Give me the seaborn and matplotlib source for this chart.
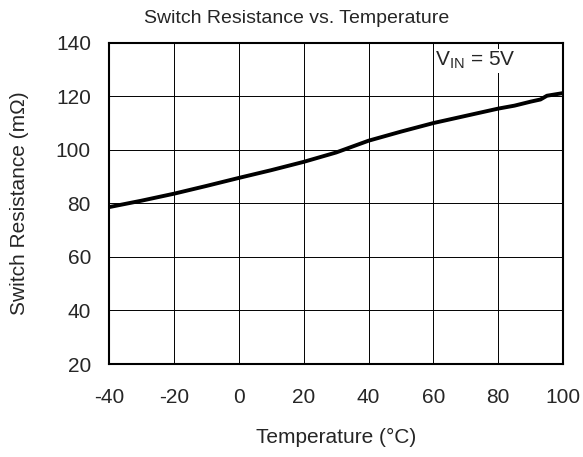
import matplotlib
matplotlib.use("Agg")
import matplotlib.pyplot as plt
import seaborn as sns
import pandas as pd

# Values
temperature = [-40, -30, -20, -10, 0, 10, 20, 30, 40, 50, 60, 70, 80, 85, 90, 93, 95, 100]
resistance = [78.6, 81.0, 83.6, 86.5, 89.5, 92.4, 95.5, 99.0, 103.4, 106.8,
              110.0, 112.7, 115.4, 116.5, 118.0, 118.8, 120.2, 121.2]
x_ticks = [-40, -20, 0, 20, 40, 60, 80, 100]
y_ticks = [20, 40, 60, 80, 100, 120, 140]

df = pd.DataFrame({"temp": temperature, "res": resistance})

sns.set_style("white")
plt.rcParams["font.family"] = ["Liberation Sans", "DejaVu Sans"]
plt.rcParams["mathtext.fontset"] = "custom"
plt.rcParams["mathtext.rm"] = "Liberation Sans"
plt.rcParams["axes.unicode_minus"] = False

fig = plt.figure(figsize=(5.83, 4.57), dpi=100)
ax = fig.add_axes([0.187, 0.2035, 0.779, 0.703])

sns.lineplot(data=df, x="temp", y="res", ax=ax, color="black", linewidth=2.8)

ax.set_xlim(-40, 100)
ax.set_ylim(20, 140)
ax.set_xticks(x_ticks)
ax.set_yticks(y_ticks)
ax.grid(True, color="black", linewidth=0.7)
ax.tick_params(length=0, labelsize=15)
ax.tick_params(axis="x", pad=17)
ax.tick_params(axis="y", pad=13)
for s in ax.spines.values():
    s.set_color("black")
    s.set_linewidth(1.5)

ax.set_xlabel("Temperature (°C)", fontsize=15, labelpad=15)
ax.set_ylabel("Switch Resistance (mΩ)", fontsize=15, labelpad=19)
ax.set_title("Switch Resistance vs. Temperature", fontsize=14, pad=14, x=0.412)

ax.text(60.5, 131.3, r"$\mathrm{V_{IN}}$ = 5V", fontsize=15, va="baseline",
        bbox=dict(facecolor="white", edgecolor="none", pad=1))

fig.savefig("out.png", dpi=100)
